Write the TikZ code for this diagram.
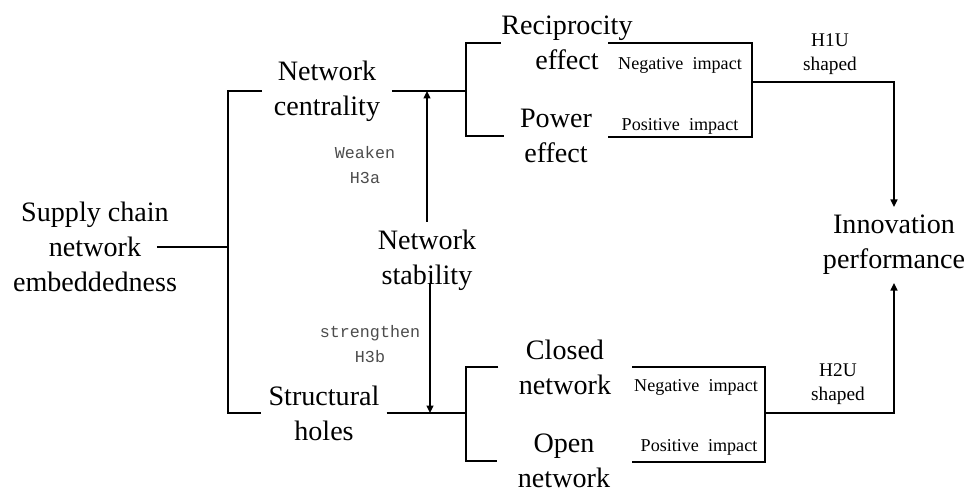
\documentclass[tikz,border=0pt]{standalone}
\usepackage{fontspec}
\setmainfont{Liberation Serif}
\setmonofont{Liberation Mono}
\usetikzlibrary{positioning, calc, arrows.meta}

\begin{document}
\begin{tikzpicture}[x=0.02cm, y=-0.02cm, thick, >={Triangle[length=0.15cm, width=0.14cm]}]
            % Define text styles
            \tikzstyle{concept} = [align=center, inner ysep=0pt, font=\fontsize{16}{20}\selectfont]
            \tikzstyle{branch} = [concept, inner xsep=0.395cm]
            \tikzstyle{impact} = [inner sep=0pt, font=\fontsize{10.3}{13}\selectfont]
            \tikzstyle{ulabel} = [align=center, inner sep=0pt, font=\fontsize{11}{13.5}\selectfont]
            \tikzstyle{modlabel} = [align=center, inner sep=0pt, text=black!70, font=\ttfamily\fontsize{9.5}{14}\selectfont]

            \useasboundingbox (0,0) rectangle (968,493);

            % Place main nodes
            \node [concept] (sce) at (95,247) {Supply chain\\network\\embeddedness};
            \node [concept, inner xsep=0.22cm] (nc) at (327,91) {Network\\centrality};
            \node [concept, inner xsep=0.13cm] (sh) at (324,413) {Structural\\holes};
            \node [concept] (ns) at (427,260) {Network\\stability};
            \node [concept, inner ysep=0.15cm] (inno) at (894,245) {Innovation\\performance};

            % Place mechanism nodes
            \node [concept, inner xsep=0cm] (rec) at (567,43) {Reciprocity\\effect};
            \node [concept, inner xsep=0.3cm] (pow) at (556,136) {Power\\effect};
            \node [branch] (cls) at (565,367) {Closed\\network};
            \node [branch] (opn) at (564,461) {Open\\network};

            % Place impact and hypothesis labels
            \node [impact] (neg1) at (680,65) {Negative\ \ impact};
            \node [impact] (pos1) at (680,126) {Positive\ \ impact};
            \node [impact] (neg2) at (696,387) {Negative\ \ impact};
            \node [impact] (pos2) at (699,447) {Positive\ \ impact};
            \node [ulabel] (h1) at (830,54) {H1U\\shaped};
            \node [ulabel] (h2) at (838,384) {H2U\\shaped};
            \node [modlabel] (h3a) at (365,165) {Weaken\\H3a};
            \node [modlabel] (h3b) at (370,344) {strengthen\\H3b};

            % Junction points
            \coordinate (spine) at (228,247);
            \coordinate (jA) at (466,91);
            \coordinate (jB) at (466,413);
            \coordinate (b1nw) at (608,43);
            \coordinate (b1ne) at (752,43);
            \coordinate (b1se) at (752,137);
            \coordinate (b1sw) at (608,137);
            \coordinate (b1out) at (752,82);
            \coordinate (b2nw) at (632,367);
            \coordinate (b2ne) at (765,367);
            \coordinate (b2se) at (765,462);
            \coordinate (b2sw) at (632,462);
            \coordinate (b2out) at (765,413);

            % Draw brackets
            \draw ([xshift=1.24cm]sce.center) -- (spine);
            \draw (nc.west) -| (spine) |- (sh.west);
            \draw (nc.east) -- (jA);
            \draw (rec.west) -| (jA) |- (pow.west);
            \draw (sh.east) -- (jB);
            \draw (cls.west) -| (jB) |- (opn.west);

            % Draw impact boxes
            \draw (b1nw) -- (b1ne) -- (b1se) -- (b1sw);
            \draw (b2nw) -- (b2ne) -- (b2se) -- (b2sw);

            % Draw connections as arrows
            \draw [->] (b1out) -| (inno.north);
            \draw [->] (b2out) -| (inno.south);
            \draw [->] ([yshift=0.14cm]ns.north) -- (ns.north |- nc.east);
            \path ([xshift=0.06cm]ns.south) coordinate (nsb);
            \draw [->] ([yshift=0.16cm]nsb) -- (nsb |- sh.east);

        \end{tikzpicture}
\end{document}
